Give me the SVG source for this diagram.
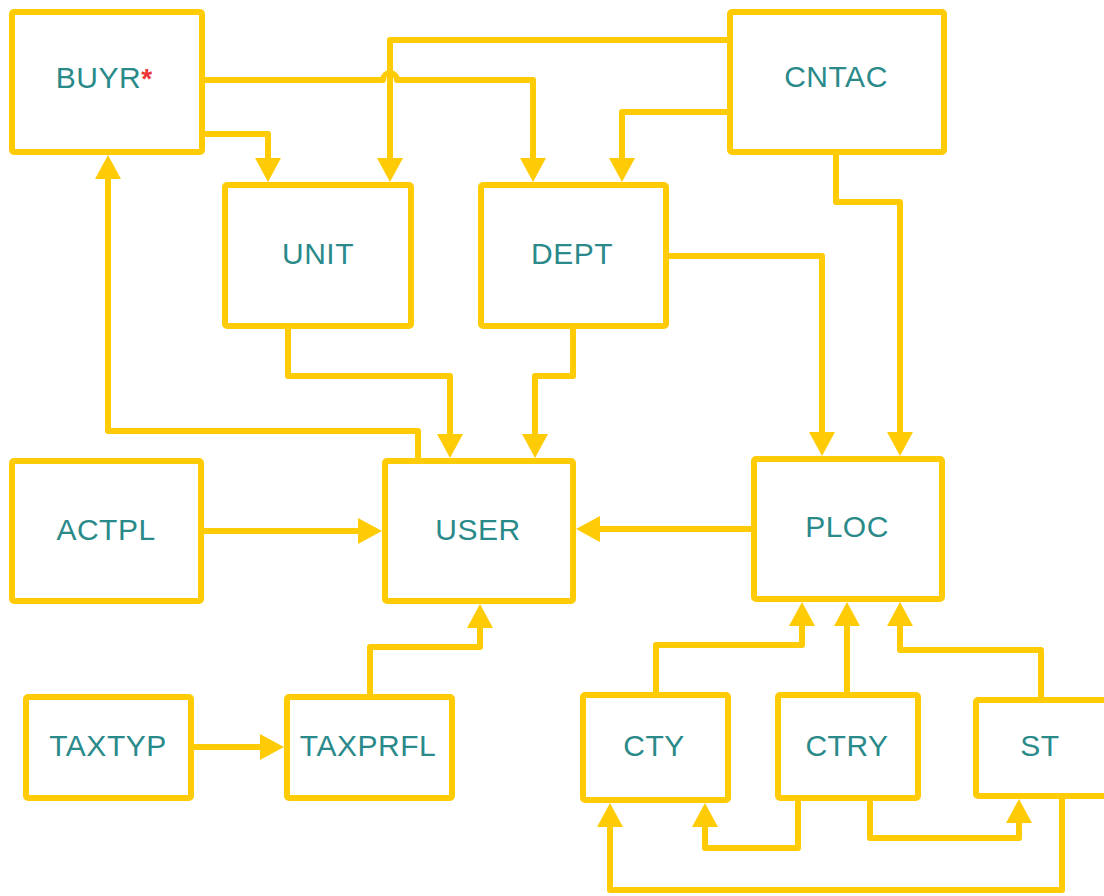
<svg xmlns="http://www.w3.org/2000/svg" width="1104" height="896" viewBox="0 0 1104 896">
  <style>
    .box { fill: #ffffff; stroke: #ffcb05; stroke-width: 6; }
    .lbl { font-family: "Liberation Sans", Arial, sans-serif; font-size: 30px; letter-spacing: 0.5px; fill: #2a8a8a; text-anchor: middle; }
    .req { fill: #ee3535; font-size: 28px; font-weight: bold; letter-spacing: 0; }
    .wire { fill: none; stroke: #ffcb05; stroke-width: 6; stroke-linejoin: round; marker-end: url(#head); }
  </style>
  <defs>
    <marker id="head" viewBox="0 0 24 26" refX="4" refY="13" markerWidth="24" markerHeight="26" markerUnits="userSpaceOnUse" orient="auto">
      <path d="M0,0 L24,13 L0,26 z" fill="#ffcb05"/>
    </marker>
  </defs>
  <rect width="1104" height="896" fill="#ffffff"/>

  <g id="connectors">
    <path class="wire" d="M202,134 H268 V162"/>
    <path class="wire" d="M202,80 H383 A7,7 0 0 1 397,80 H533 V162"/>
    <path class="wire" d="M730,40 H390 V162"/>
    <path class="wire" d="M730,112 H622 V162"/>
    <path class="wire" d="M836,152 V202 H900 V436"/>
    <path class="wire" d="M666,256 H822 V436"/>
    <path class="wire" d="M288,326 V376 H450 V438"/>
    <path class="wire" d="M573,326 V376 H535 V438"/>
    <path class="wire" d="M418,461 V431 H108 V175"/>
    <path class="wire" d="M201,531 H362"/>
    <path class="wire" d="M754,529 H596"/>
    <path class="wire" d="M191,747 H264"/>
    <path class="wire" d="M370,697 V647 H480 V624"/>
    <path class="wire" d="M656,695 V645 H802 V622"/>
    <path class="wire" d="M847,695 V622"/>
    <path class="wire" d="M1041,700 V650 H900 V622"/>
    <path class="wire" d="M798,798 V848 H705 V823"/>
    <path class="wire" d="M870,798 V838 H1019 V819"/>
    <path class="wire" d="M1062,796 V890 H610 V823"/>
  </g>

  <g id="BUYR">
    <rect class="box" x="12" y="12" width="190" height="140" rx="2"/>
    <text class="lbl" x="104" y="88">BUYR<tspan class="req">*</tspan></text>
  </g>
  <g id="CNTAC">
    <rect class="box" x="730" y="12" width="214" height="140" rx="2"/>
    <text class="lbl" x="836" y="87">CNTAC</text>
  </g>
  <g id="UNIT">
    <rect class="box" x="225" y="185" width="186" height="141" rx="2"/>
    <text class="lbl" x="318" y="264">UNIT</text>
  </g>
  <g id="DEPT">
    <rect class="box" x="481" y="185" width="185" height="141" rx="2"/>
    <text class="lbl" x="572" y="264">DEPT</text>
  </g>
  <g id="ACTPL">
    <rect class="box" x="12" y="461" width="189" height="140" rx="2"/>
    <text class="lbl" x="106" y="540">ACTPL</text>
  </g>
  <g id="USER">
    <rect class="box" x="385" y="461" width="188" height="140" rx="2"/>
    <text class="lbl" x="478" y="540">USER</text>
  </g>
  <g id="PLOC">
    <rect class="box" x="754" y="459" width="188" height="140" rx="2"/>
    <text class="lbl" x="847" y="537">PLOC</text>
  </g>
  <g id="TAXTYP">
    <rect class="box" x="26" y="697" width="165" height="101" rx="2"/>
    <text class="lbl" x="108" y="756">TAXTYP</text>
  </g>
  <g id="TAXPRFL">
    <rect class="box" x="287" y="697" width="165" height="101" rx="2"/>
    <text class="lbl" x="368" y="756">TAXPRFL</text>
  </g>
  <g id="CTY">
    <rect class="box" x="583" y="695" width="145" height="105" rx="2"/>
    <text class="lbl" x="654" y="756">CTY</text>
  </g>
  <g id="CTRY">
    <rect class="box" x="778" y="695" width="140" height="103" rx="2"/>
    <text class="lbl" x="847" y="756">CTRY</text>
  </g>
  <g id="ST">
    <rect class="box" x="976" y="700" width="134" height="96" rx="2"/>
    <text class="lbl" x="1040" y="756">ST</text>
  </g>
</svg>
